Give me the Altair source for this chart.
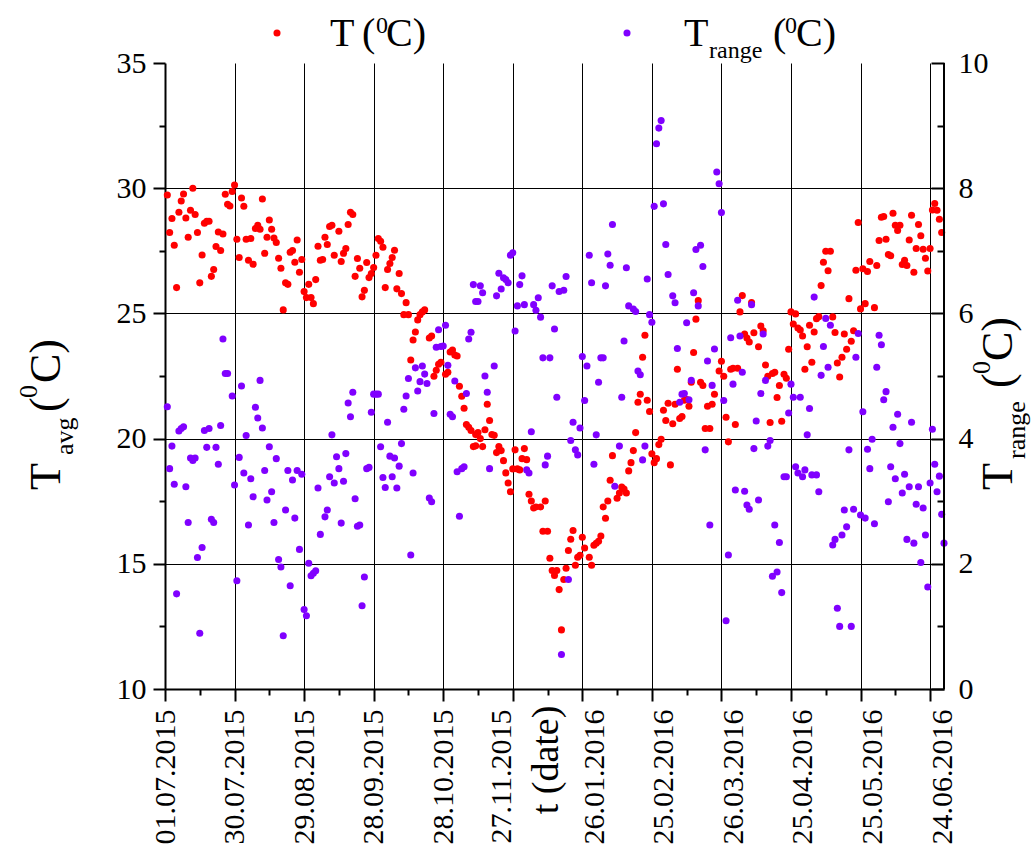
import altair as alt
import pandas as pd

FONT = "Liberation Serif"
W, H = 779, 626          # plot area
L, T = 165, 63           # plot origin in the page


def runs(*rs):
    out = []
    for a, b in rs:
        out.extend(range(a, b + 1))
    return out


# ---- data (day index along the x axis) ----
t_day = runs((1, 73), (75, 112), (114, 119), (121, 134), (134, 160), (162, 181),
             (183, 193), (195, 237), (239, 254), (256, 304), (306, 335))
t_avg = [
    29.73, 28.23, 28.79, 27.72, 26.03, 29.04, 29.49, 29.77, 28.81, 28.04,
    29.12, 30.0, 28.95, 28.23, 26.22, 27.33, 28.60, 28.68, 28.68, 26.48,
    26.75, 27.67, 28.25, 27.51, 28.17, 29.76, 29.36, 29.29, 29.87, 30.13,
    27.96, 27.23, 29.61, 29.28, 27.96, 27.12, 27.99, 26.96, 28.39, 28.52,
    28.36, 29.57, 27.40, 28.04, 28.73, 28.36, 28.01, 27.83, 27.20, 26.80,
    25.14, 26.22, 26.16, 27.44, 27.51, 27.04, 27.93, 26.64, 27.15, 25.87,
    25.63, 26.16, 25.63, 25.39, 26.35, 27.68, 27.12,
    27.15, 28.04, 27.75, 28.47, 28.52, 27.32,
    28.28, 27.07, 27.40, 27.59, 28.55, 29.04, 28.95, 26.48, 27.19, 26.80,
    25.66, 25.92, 27.03, 26.43, 26.59, 26.83, 27.32, 27.99, 27.88, 27.64,
    26.03, 26.75, 26.99, 27.23, 27.52, 25.98, 26.59, 25.79, 24.95, 25.43,
    24.95, 23.14, 23.94, 24.26, 24.74, 24.95, 25.06, 25.14,
    24.02, 24.10, 22.49, 22.73, 22.97, 23.05,
    22.57, 22.65, 23.46, 23.54, 23.34, 23.30, 22.09, 21.69, 21.21, 20.56,
    20.45, 20.32, 19.68, 20.16,
    19.71, 20.24, 20.00, 19.68, 20.35, 21.37, 20.72, 20.16, 20.13, 19.44,
    19.68, 19.52, 19.12, 18.63, 18.23, 17.88, 18.79, 19.55, 18.79, 18.75,
    19.20, 19.60, 19.16, 17.78, 17.51, 17.23, 17.27,
    17.27, 16.30, 17.51, 16.30, 15.22, 14.73, 14.53, 14.73, 13.97, 12.36,
    14.37, 14.82, 15.53, 15.98, 16.33, 14.94, 15.26, 15.34, 16.06, 15.63,
    15.26, 14.94, 15.74, 15.82, 15.90, 16.11, 17.27, 16.82, 17.51, 18.34, 19.32,
    17.62, 17.83, 18.07, 17.99, 17.83, 18.71,
    19.04, 19.52, 20.24, 21.45, 21.77, 23.25, 24.13, 21.53, 21.08, 19.39,
    19.04, 19.20, 19.76, 19.97, 21.13, 20.72, 21.41, 18.95, 20.59, 21.37,
    22.77, 20.80, 20.88, 21.53, 21.56, 21.29, 22.25, 23.44, 24.77, 25.51,
    22.25, 22.12, 20.40, 21.29, 20.40, 21.37, 21.77,
    22.70, 23.09, 22.49, 20.85, 19.87, 22.77, 22.81, 20.56, 22.81, 25.06,
    25.71, 24.18, 24.02, 23.86, 25.43, 24.23,
    23.67, 24.50, 24.31, 22.94, 22.49, 20.64, 22.60, 22.65, 21.64, 22.12,
    20.69, 22.57,
    22.41, 23.57, 25.06, 24.58, 24.98, 24.42, 24.34, 24.10, 22.77, 23.67,
    24.53, 23.05, 24.26, 24.79, 24.87, 26.11, 27.04, 27.48, 26.70, 27.48,
    24.86, 24.24, 23.02, 22.46, 23.25, 24.18, 23.57, 25.59, 23.89, 24.31,
    26.72, 28.63, 25.18, 26.78, 25.39, 26.67, 27.07,
    25.23, 26.91, 27.91, 28.84, 28.87, 27.96, 27.35, 27.30, 29.00, 28.52,
    28.31, 28.52, 26.95, 27.12, 26.91, 27.93, 28.92, 26.64, 27.59, 28.55,
    28.10, 27.56, 27.20, 26.69, 27.59, 29.13, 29.39, 29.12, 28.76, 28.23,
]

r_day = runs((1, 27), (29, 67), (69, 134), (135, 140), (142, 194), (196, 200),
             (202, 217), (219, 267), (268, 336))
t_range = [
    4.51, 3.52, 3.88, 3.27, 1.52, 4.12, 4.16, 4.19, 3.23, 2.66,
    3.69, 3.65, 3.69, 2.10, 0.89, 2.26, 4.13, 3.86, 4.16, 2.71,
    2.66, 3.86, 3.59, 4.21, 5.59, 5.04, 5.04,
    4.68, 3.26, 1.73, 3.70, 4.84, 3.45, 4.05, 2.62, 3.36, 3.07,
    4.50, 4.33, 4.93, 4.17, 3.49, 3.02, 3.87, 3.15, 2.66, 3.68,
    2.07, 1.95, 0.85, 2.86, 3.49, 1.65, 3.34, 2.73, 3.49, 2.23,
    3.43, 1.27, 1.17, 2.01, 1.81, 1.85, 1.89, 3.21, 2.47,
    2.75, 2.86, 3.39, 4.06, 3.29, 3.71, 3.52, 2.65, 3.32, 3.76,
    4.57, 4.35, 4.74, 3.04, 2.60, 2.62, 1.33, 1.79, 3.52, 3.54,
    4.42, 4.71, 4.71, 4.71, 3.87, 3.38, 3.22, 4.26, 3.72, 3.39,
    3.69, 3.21, 3.56, 3.92, 4.47, 4.68, 4.96, 2.14, 3.45, 5.13,
    4.76, 4.91, 5.16, 5.03, 4.88, 3.05, 2.99, 4.40, 5.46, 5.74,
    5.47, 5.48, 5.81, 5.17, 4.39, 4.35, 4.92, 3.47, 2.76, 3.52,
    3.55, 4.72, 5.59, 5.70, 6.46, 6.19,
    6.19, 6.44, 6.33, 5.00, 4.74, 3.52,
    5.16, 6.28, 6.64, 6.39, 6.57, 6.54, 6.49, 6.93, 6.97, 5.72,
    6.12, 6.46, 6.60, 6.14, 3.50, 3.45, 4.11, 6.14, 6.05, 6.25,
    5.94, 5.29, 3.58, 3.72, 5.29, 6.44, 5.75, 4.66, 6.35, 0.55,
    6.37, 6.59, 1.75, 3.97, 4.26, 3.82, 3.74, 4.17, 5.31, 4.61,
    5.16, 6.93, 6.49, 3.59, 4.06, 4.90, 5.29, 5.29, 6.44, 6.95,
    6.77, 7.42, 3.24,
    3.88, 4.66, 5.56, 6.73, 6.12,
    6.07, 6.03, 5.08, 5.02, 3.66, 3.88, 6.55, 5.98, 5.86, 7.71,
    8.71, 8.96, 9.08, 7.75, 7.10, 6.62,
    6.28, 6.17, 5.44, 4.58, 4.71, 4.72, 5.85, 4.62, 4.93, 6.33,
    7.02, 6.12, 7.09, 6.75, 3.82, 5.24, 2.62, 4.85, 5.43, 8.26,
    8.07, 7.61, 4.61, 1.09, 2.14, 5.61, 4.87, 3.18, 6.21, 5.64,
    5.06, 3.16, 2.94, 2.87, 6.14, 3.84, 4.28, 3.02, 4.72, 5.67,
    4.93, 3.88, 3.97, 1.80, 2.62, 1.87, 2.34, 1.54, 3.39,
    3.39, 4.41, 4.87, 4.66, 3.55, 3.45, 4.66, 3.39, 3.50, 4.06,
    4.48, 3.42, 6.26, 3.42, 3.15, 5.01, 5.47, 5.92, 5.14, 5.81,
    2.30, 2.39, 1.29, 1.00, 2.46, 2.86, 2.59, 3.82, 1.00, 2.87,
    5.30, 5.68, 2.78, 4.43, 2.73, 3.83, 3.52, 3.99, 2.64, 5.14,
    5.65, 5.50, 4.62, 4.75, 2.99, 3.55, 4.18, 3.36, 4.39, 3.92,
    3.13, 3.43, 2.39, 3.23, 4.26, 2.33, 2.95, 3.23, 2.02, 2.89,
    2.46, 1.63, 3.29, 4.15, 3.59, 3.15, 3.40, 2.79, 2.33,
]

x_labels = ["01.07.2015", "30.07.2015", "29.08.2015", "28.09.2015", "28.10.2015",
            "27.11.2015", "26.01.2016", "25.02.2016", "26.03.2016", "25.04.2016",
            "25.05.2016", "24.06.2016"]
x_major = list(range(0, 331, 30))
x_ticks = list(range(0, 331, 15))
left_ticks = [10, 12.5, 15, 17.5, 20, 22.5, 25, 27.5, 30, 32.5, 35]
right_ticks = list(range(0, 11))

assert len(t_day) == len(t_avg), (len(t_day), len(t_avg))
assert len(r_day) == len(t_range), (len(r_day), len(t_range))

df_t = pd.DataFrame({"day": t_day, "t": t_avg})
df_r = pd.DataFrame({"day": r_day, "r": t_range})
one = pd.DataFrame({"k": [0]})

RED = "#ff0000"
VIOLET = "#8000ff"
DOT = 50

# label lookup as a chain of ternaries (no array literals in the expression)
x_label_expr = "".join(f"datum.value === {v} ? '{s}' : " for v, s in zip(x_major, x_labels)) + "''"

xscale = alt.Scale(domain=[0, 336], nice=False, zero=False)

x_axis = alt.Axis(
    values=x_ticks,
    labelExpr=x_label_expr,
    labelAngle=270, labelFont=FONT, labelFontSize=30, labelColor="black",
    labelPadding=8, labelOverlap=False, labelFlush=False,
    # the original nudges the labels next to the "t (date)" title aside
    labelOffset={"expr": "datum.value === 150 ? -11 : (datum.value >= 180 ? 12 : 0)"},
    tickSize={"expr": "datum.value % 30 === 0 ? 12 : 6"},
    tickColor="black", tickWidth=2,
    domainColor="black", domainWidth=2,
    grid=True, gridColor="black", gridWidth=1,
    gridOpacity={"expr": "datum.value % 30 === 0 && datum.value > 0 ? 1 : 0"},
    title=None,
)

left_axis = alt.Axis(
    orient="left", values=left_ticks,
    labelExpr="datum.value % 5 === 0 ? format(datum.value, 'd') : ''",
    labelFont=FONT, labelFontSize=30, labelColor="black",
    labelPadding=7, labelOverlap=False, labelFlush=False,
    tickSize={"expr": "datum.value % 5 === 0 ? 12 : 6"},
    tickColor="black", tickWidth=2,
    domainColor="black", domainWidth=2,
    grid=True, gridColor="black", gridWidth=1,
    gridOpacity={"expr": "datum.value % 5 === 0 && datum.value > 10 && datum.value < 35 ? 1 : 0"},
    title=None,
)

right_axis = alt.Axis(
    orient="right", values=right_ticks,
    labelExpr="datum.value % 2 === 0 ? format(datum.value, 'd') : ''",
    labelFont=FONT, labelFontSize=30, labelColor="black",
    labelPadding=27, labelOverlap=False, labelFlush=False,
    tickSize={"expr": "datum.value % 2 === 0 ? -13 : -7"},
    tickColor="black", tickWidth=2,
    domain=False, grid=False,
    title=None,
)

red = alt.Chart(df_t).mark_circle(size=DOT, opacity=1, color=RED).encode(
    x=alt.X("day:Q", scale=xscale, axis=x_axis),
    y=alt.Y("t:Q", scale=alt.Scale(domain=[10, 35], nice=False, zero=False), axis=left_axis),
)

violet = alt.Chart(df_r).mark_circle(size=DOT, opacity=1, color=VIOLET).encode(
    x=alt.X("day:Q", scale=xscale, axis=x_axis),
    y=alt.Y("r:Q", scale=alt.Scale(domain=[0, 10], nice=False, zero=False), axis=right_axis),
)

right_border = alt.Chart(one).mark_rule(color="black", strokeWidth=2).encode(
    x=alt.value(W), y=alt.value(0), y2=alt.value(H)
)


def label(text, x, y, size, angle=0, align="left", baseline="alphabetic"):
    return alt.Chart(one).mark_text(
        text=text, font=FONT, fontSize=size, angle=angle, align=align,
        baseline=baseline, color="black",
    ).encode(x=alt.value(x - L), y=alt.value(y - T))


def dot(x, y, color):
    return alt.Chart(one).mark_circle(size=DOT, opacity=1, color=color).encode(
        x=alt.value(x - L), y=alt.value(y - T)
    )


annotations = [
    # left axis title  T_avg (0C)
    label("T", 60, 490, 44, 270),
    label("avg", 73, 455, 26, 270),
    label("(", 60, 412, 44, 270),
    label("0", 37, 398, 26, 270),
    label("C)", 60, 383, 44, 270),
    # right axis title  T_range (0C)
    label("T", 1012, 490, 44, 270),
    label("range", 1025, 459, 26, 270),
    label("(", 1012, 388, 44, 270),
    label("0", 990, 374, 26, 270),
    label("C)", 1012, 361, 44, 270),
    # x axis title
    label("t (date)", 547, 760, 38, 270, align="center", baseline="middle"),
    # legend
    dot(277, 33, RED),
    label("T", 330, 46, 40),
    label("(", 362, 46, 40),
    label("0", 376, 33, 24),
    label("C)", 386, 46, 40),
    dot(627, 33, VIOLET),
    label("T", 684, 46, 40),
    label("range", 709, 58, 24),
    label("(", 773, 46, 40),
    label("0", 785, 33, 24),
    label("C)", 796, 46, 40),
]

chart = alt.layer(red, violet, right_border, *annotations).resolve_scale(
    y="independent"
).properties(
    width=W, height=H,
    padding={"left": L, "top": T, "right": 1035 - L - W, "bottom": 854 - T - H},
    autosize=alt.AutoSizeParams(type="none"),
    background="white",
).configure_view(stroke=None)

chart.save("out.html", embed_options={"renderer": "svg", "actions": False})
